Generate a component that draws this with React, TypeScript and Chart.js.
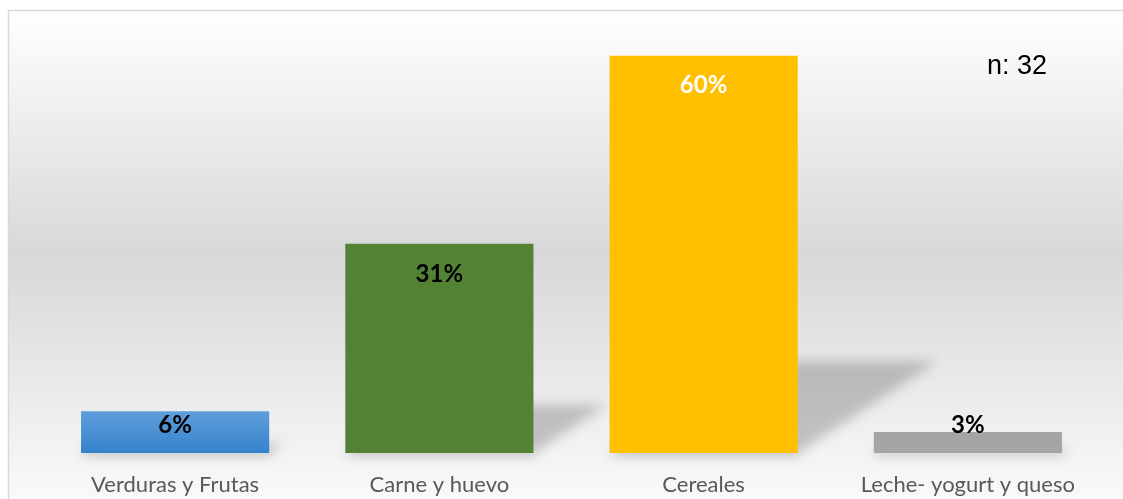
import React, { useEffect, useRef } from "react";
import { Chart, registerables } from "chart.js";

Chart.register(...registerables);

const categories = ["Verduras y Frutas", "Carne y huevo", "Cereales", "Leche- yogurt y queso"];
const values = [6.25, 31.25, 59.375, 3.125];
const valueLabels = ["6%", "31%", "60%", "3%"];
const barColors = ["#5b9bd5", "#548235", "#ffc000", "#a5a5a5"];
const labelColors = ["#000000", "#000000", "#ffffff", "#000000"];
const noteText = "n: 32";

const backgroundPlugin = {
  id: "bgPlugin",
  beforeDraw(chart: any) {
    const ctx = chart.ctx;
    const top = 10;
    const bottom = 520;
    const g = ctx.createLinearGradient(0, top, 0, bottom);
    g.addColorStop(0, "#ffffff");
    g.addColorStop(0.48, "#d8d8d8");
    g.addColorStop(1, "#fcfcfc");
    ctx.save();
    ctx.fillStyle = g;
    ctx.fillRect(8.5, top + 0.5, 1130, bottom);
    ctx.strokeStyle = "#d9d9d9";
    ctx.lineWidth = 1.5;
    ctx.strokeRect(8.5, top + 0.5, 1130, bottom);
    ctx.restore();
  },
};

const shadowPlugin = {
  id: "shadowPlugin",
  beforeDatasetsDraw(chart: any) {
    const ctx = chart.ctx;
    const meta = chart.getDatasetMeta(0);
    ctx.save();
    ctx.filter = "blur(6px)";
    meta.data.forEach((bar: any) => {
      const { x, y, base, width } = bar.getProps(["x", "y", "base", "width"], true);
      const H = base - y;
      const dx = H * 0.35;
      const dy = H * 0.23;
      const l = x - width / 2;
      const r = x + width / 2;
      ctx.fillStyle = "rgba(0,0,0,0.2)";
      ctx.beginPath();
      ctx.moveTo(l, base);
      ctx.lineTo(r, base);
      ctx.lineTo(r + dx, base - dy);
      ctx.lineTo(l + dx, base - dy);
      ctx.closePath();
      ctx.fill();
      ctx.fillStyle = "rgba(0,0,0,0.12)";
      ctx.fillRect(l + 2, base - 2, width, 5);
    });
    ctx.restore();
  },
};

const labelPlugin = {
  id: "labelPlugin",
  afterDatasetsDraw(chart: any) {
    const ctx = chart.ctx;
    const meta = chart.getDatasetMeta(0);
    ctx.save();
    ctx.font = "bold 24px Lato";
    ctx.textAlign = "center";
    ctx.textBaseline = "middle";
    meta.data.forEach((bar: any, i: number) => {
      const { x, y, base } = bar.getProps(["x", "y", "base"], true);
      const ly = Math.min(y + 30, base - 28);
      ctx.fillStyle = labelColors[i];
      ctx.fillText(valueLabels[i], x, ly);
    });
    ctx.font = "27px 'Liberation Sans'";
    ctx.fillStyle = "#000000";
    ctx.fillText(noteText, 1017, 67);
    ctx.restore();
  },
};

export default function App() {
  const ref = useRef<HTMLCanvasElement>(null);
  useEffect(() => {
    document.body.style.margin = "0";
    const canvas = ref.current;
    if (!canvas) return;
    const chart = new Chart(canvas, {
      type: "bar",
      data: {
        labels: categories,
        datasets: [
          {
            data: values,
            backgroundColor: (c: any) => {
              const i = c.dataIndex;
              if (i !== 0) return barColors[i];
              const ch = c.chart;
              if (!ch.chartArea) return barColors[0];
              const yTop = ch.scales.y.getPixelForValue(values[0]);
              const yBot = ch.scales.y.getPixelForValue(0);
              const g = ch.ctx.createLinearGradient(0, yTop, 0, yBot);
              g.addColorStop(0, "#5f9edb");
              g.addColorStop(1, "#3582cb");
              return g;
            },
            borderWidth: 0,
            barPercentage: 0.712,
            categoryPercentage: 1,
          },
        ],
      },
      options: {
        animation: false,
        responsive: false,
        maintainAspectRatio: false,
        layout: { padding: { left: 43, right: 23, top: 18, bottom: 0 } },
        plugins: { legend: { display: false }, tooltip: { enabled: false } },
        scales: {
          x: {
            grid: { display: false },
            border: { display: false },
            ticks: {
              color: "#595959",
              font: { family: "Lato", size: 22 },
              padding: 11,
            },
            afterFit: (s: any) => {
              s.height = 46;
            },
          },
          y: {
            display: false,
            min: 0,
            max: 65,
          },
        },
      },
      plugins: [backgroundPlugin, shadowPlugin, labelPlugin],
    });
    return () => chart.destroy();
  }, []);
  return (
    <div style={{ width: 1123, height: 499 }}>
      <canvas ref={ref} width={1123} height={499} style={{ display: "block" }} />
    </div>
  );
}
